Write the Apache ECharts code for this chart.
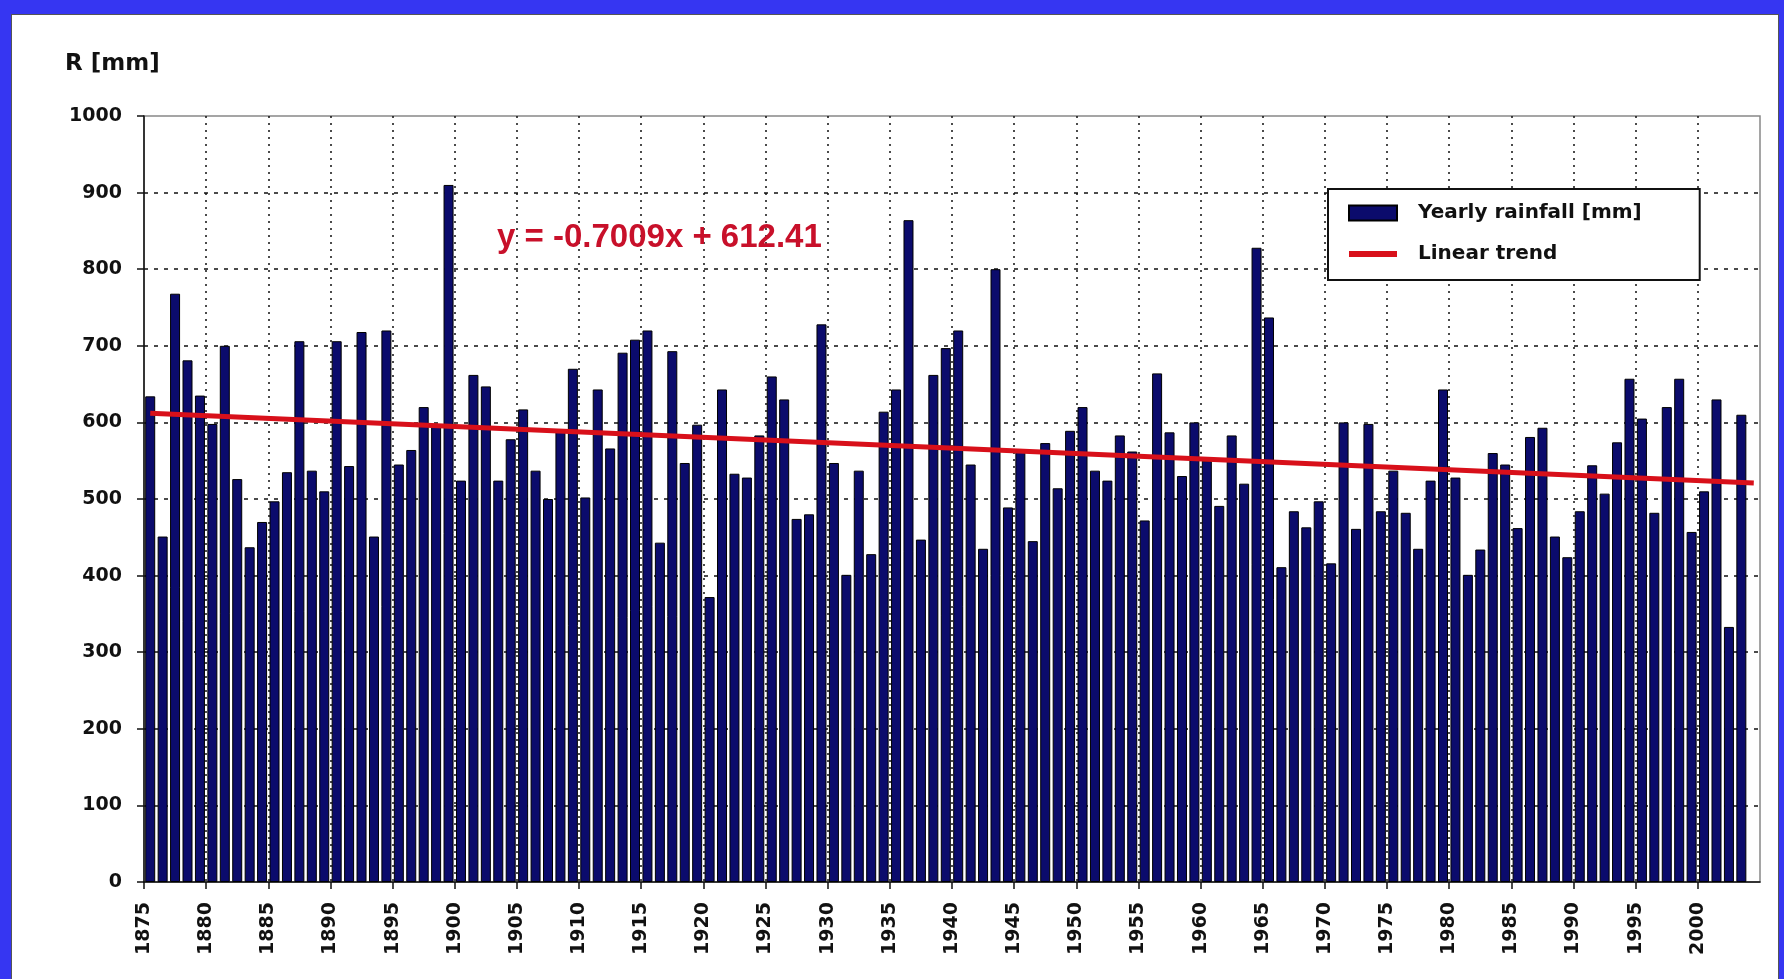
<!DOCTYPE html>
<html>
<head>
<meta charset="utf-8">
<script src="https://cdn.jsdelivr.net/npm/echarts@6.0.0/dist/echarts.min.js"></script>
<style>
  html, body { margin: 0; padding: 0; background: #3636f2; overflow: hidden; }
  #panel { position: absolute; left: 11px; top: 14px; width: 1766px; height: 980px; background: #fff; border: 1px solid #555; }
  #chart { position: absolute; left: 0; top: 0; width: 1784px; height: 979px; }
</style>
</head>
<body>
<div id="panel"></div>
<div id="chart"></div>
<script>
// yearly rainfall, 1875 - 2003
const firstYear = 1875;
const rainfall = [
  634, 451, 768, 681, 635, 598, 700, 526, 437, 470,
  497, 535, 706, 537, 510, 706, 543, 718, 451, 720,
  545, 564, 620, 594, 910, 524, 662, 647, 524, 578,
  617, 537, 500, 588, 670, 502, 643, 566, 691, 708,
  720, 443, 693, 547, 597, 372, 643, 533, 528, 583,
  660, 630, 474, 480, 728, 547, 401, 537, 428, 614,
  643, 864, 447, 662, 697, 720, 545, 435, 800, 489,
  562, 445, 573, 514, 589, 620, 537, 524, 583, 562,
  472, 664, 587, 530, 600, 550, 491, 583, 520, 828,
  737, 411, 484, 463, 497, 416, 600, 461, 598, 484,
  537, 482, 435, 524, 643, 528, 401, 434, 560, 545,
  462, 581, 593, 451, 424, 484, 544, 507, 574, 657,
  605, 482, 620, 657, 457, 510, 630, 333, 610
];
const years = rainfall.map((v, i) => firstYear + i);

// trend line ends as drawn (y = -0.7009x + 612.41)
const trendYears = [1875.5, 2004.5];
const trendValues = [612, 521];

const equationText = 'y = -0.7009x + 612.41';

const axisFont = 'DejaVu Sans';
const barColor = '#0b0b6c';
const trendColor = '#d8101a';

let chart = echarts.init(document.getElementById('chart'), null, { renderer: 'canvas' });

const option = {
  backgroundColor: 'transparent',
  animation: false,
  title: {
    text: 'R [mm]',
    left: 60,
    top: 48,
    textStyle: { fontFamily: axisFont, fontWeight: 'bold', fontSize: 23, color: '#111' }
  },
  legend: {
    left: 1328,
    top: 189,
    orient: 'vertical',
    itemWidth: 48,
    itemHeight: 15,
    itemGap: 19,
    padding: [13, 58, 15, 20],
    backgroundColor: '#fff',
    borderColor: '#111',
    borderWidth: 2,
    borderRadius: 0,
    textStyle: {
      fontFamily: axisFont, fontWeight: 'bold', fontSize: 20, color: '#111',
      lineHeight: 22, padding: [0, 0, 0, 16]
    },
    data: [
      { name: 'Yearly rainfall [mm]', icon: 'rect' },
      {
        name: 'Linear trend',
        // thin bar centred in the 48x15 icon box
        icon: 'path://M0,0 L0.01,0 M0,15 L0.01,15 M0,4.5 L48,4.5 L48,10.5 L0,10.5 Z',
        itemStyle: { color: trendColor, borderWidth: 0 }
      }
    ]
  },
  grid: {
    left: 144,
    right: 24,
    top: 116,
    bottom: 97,
    show: true,
    borderColor: '#888',
    borderWidth: 1.5
  },
  xAxis: {
    type: 'value',
    min: 1875,
    max: 2005,
    interval: 5,
    axisLine: { show: true, onZero: false, lineStyle: { color: '#111', width: 1.5 } },
    axisTick: { show: true, length: 7, lineStyle: { color: '#111', width: 1.5 } },
    axisLabel: {
      rotate: 90,
      margin: 20,
      showMaxLabel: false,
      fontFamily: axisFont,
      fontWeight: 'bold',
      fontSize: 19,
      color: '#111',
      formatter: v => String(v)
    },
    splitLine: {
      show: true,
      showMinLine: false,
      showMaxLine: false,
      lineStyle: { color: '#111', type: [2, 5], width: 1.5 }
    }
  },
  yAxis: {
    type: 'value',
    min: 0,
    max: 1000,
    interval: 100,
    axisLine: { show: true, lineStyle: { color: '#111', width: 1.5 } },
    axisTick: { show: true, length: 7, lineStyle: { color: '#111', width: 1.5 } },
    axisLabel: {
      margin: 22,
      fontFamily: axisFont,
      fontWeight: 'bold',
      fontSize: 19,
      color: '#111',
      formatter: v => String(v)
    },
    splitLine: {
      show: true,
      showMinLine: false,
      showMaxLine: false,
      lineStyle: { color: '#111', type: [4, 6], width: 1.5 }
    }
  },
  series: [
    {
      name: 'Yearly rainfall [mm]',
      type: 'bar',
      barWidth: 10,
      itemStyle: { color: barColor, borderColor: '#000', borderWidth: 1 },
      data: years.map((y, i) => [y + 0.5, rainfall[i]])
    },
    {
      name: 'Linear trend',
      type: 'line',
      symbol: 'none',
      z: 5,
      lineStyle: { color: trendColor, width: 5 },
      itemStyle: { color: trendColor },
      data: trendYears.map((y, i) => [y, trendValues[i]])
    }
  ],
  graphic: [
    {
      type: 'text',
      left: 497,
      top: 221,
      z: 10,
      style: {
        text: equationText,
        fill: '#c8102a',
        font: 'bold 33px "Liberation Sans", Arial, sans-serif'
      }
    }
  ]
};

chart.setOption(option);
</script>
</body>
</html>
